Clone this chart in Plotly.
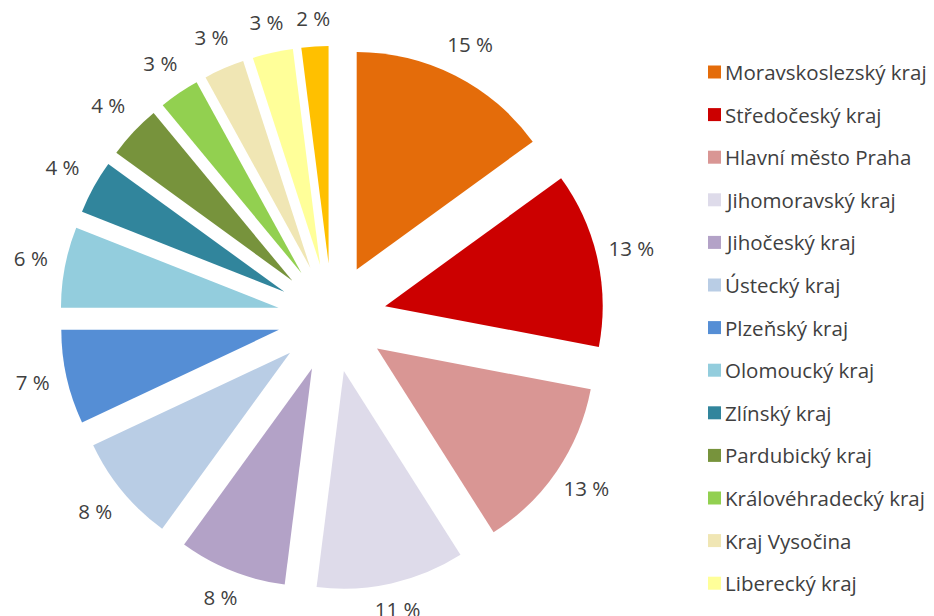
import numpy as np
import plotly.graph_objects as go

# Share of each Czech region (percent), in slice order clockwise from 12 o'clock
regions = [
    "Moravskoslezský kraj", "Středočeský kraj", "Hlavní město Praha",
    "Jihomoravský kraj", "Jihočeský kraj", "Ústecký kraj", "Plzeňský kraj",
    "Olomoucký kraj", "Zlínský kraj", "Pardubický kraj",
    "Královéhradecký kraj", "Kraj Vysočina", "Liberecký kraj",
    "Karlovarský kraj",
]
shares = [15, 13, 13, 11, 8, 8, 7, 6, 4, 4, 3, 3, 3, 2]
colors = [
    "#E46C0A", "#CC0000", "#D99694", "#DEDBEA", "#B3A2C7", "#B9CDE5",
    "#558ED5", "#93CDDD", "#31859C", "#77933C", "#92D050", "#F0E6B4",
    "#FFFF99", "#FFC000",
]
# legend lists the first thirteen regions
legend_count = 13

W, H = 934, 616
TEXT = "#404040"
FONT = "Open Sans"
PULL = 0.25

# pie centre and outer radius (including the explode offset), in pixels
CX, CY, R_OUT = 332, 318, 272
PIE_DOM_X = [(CX - R_OUT) / W, (CX + R_OUT) / W]
PIE_DOM_Y = [1 - (CY + R_OUT) / H, 1 - (CY - R_OUT) / H]

# label axes share the pie's centre and scale (1 unit = R_OUT pixels)
AX_X = [-CX / R_OUT, (2 * CX - CX) / R_OUT]
AX_Y = [-(H - CY) / R_OUT, CY / R_OUT]

# mid-angle of every slice, measured clockwise from 12 o'clock
vals = np.array(shares, dtype=float)
cum = np.cumsum(vals)
mid = np.deg2rad((cum - vals / 2) / vals.sum() * 360.0)
# label boxes sit just beyond the slice edge: gap + half box width/height
lab_r = 1 + (15 + 18 * np.abs(np.sin(mid)) + 10 * np.abs(np.cos(mid))) / R_OUT

fig = go.Figure()

fig.add_trace(go.Pie(
    labels=regions,
    values=shares,
    sort=False,
    direction="clockwise",
    rotation=0,
    pull=[PULL] * len(shares),
    marker=dict(colors=colors, line=dict(width=0)),
    textinfo="none",
    showlegend=False,
    hoverinfo="label+value",
    domain=dict(x=PIE_DOM_X, y=PIE_DOM_Y),
))

# Percentage labels just outside each exploded slice
fig.add_trace(go.Scatter(
    x=lab_r * np.sin(mid),
    y=lab_r * np.cos(mid),
    mode="text",
    text=[f"{v} %" for v in shares],
    textposition="middle center",
    textfont=dict(family=FONT, size=20.5, color=TEXT),
    cliponaxis=False,
    showlegend=False,
    hoverinfo="skip",
))

# Legend: colour swatch + region name, one row per region
LEG_TOP, LEG_STEP = 72, 42.6
SW_X0, SW_X1 = 708, 721
for i, (name, col) in enumerate(zip(regions[:legend_count], colors[:legend_count])):
    yc = LEG_TOP + i * LEG_STEP
    fig.add_shape(
        type="rect", xref="paper", yref="paper",
        x0=SW_X0 / W, x1=SW_X1 / W,
        y0=1 - (yc + 6.5) / H, y1=1 - (yc - 6.5) / H,
        fillcolor=col, line=dict(width=0),
    )
    fig.add_annotation(
        xref="paper", yref="paper", x=723 / W, y=1 - yc / H,
        xanchor="left", yanchor="middle", showarrow=False,
        text=name, font=dict(family=FONT, size=20.5, color=TEXT),
    )

fig.update_layout(
    width=W, height=H,
    margin=dict(l=0, r=0, t=0, b=0),
    paper_bgcolor="white",
    plot_bgcolor="rgba(0,0,0,0)",
    showlegend=False,
    xaxis=dict(domain=[0, 2 * CX / W], range=AX_X, visible=False, fixedrange=True),
    yaxis=dict(domain=[0, 1], range=AX_Y, visible=False, fixedrange=True),
)

fig.write_html("out.html")
